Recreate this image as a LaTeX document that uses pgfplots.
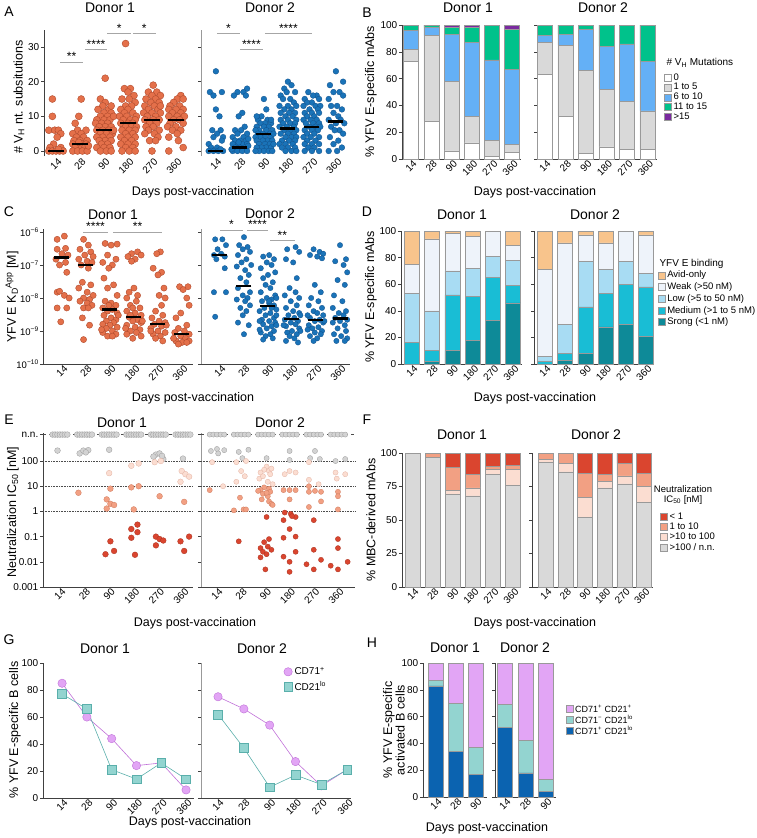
\documentclass[border=0pt]{standalone}
\usepackage{pgfplots}
\pgfplotsset{compat=1.18}
\usepackage{pgfplotstable}
\usepackage{fontspec}
\setmainfont{Liberation Sans}
\definecolor{aor}{HTML}{E4704A}\definecolor{aorE}{HTML}{B04A2C}
\definecolor{abl}{HTML}{1A73B8}\definecolor{ablE}{HTML}{10508A}
\definecolor{bgr}{HTML}{D9D9D9}\definecolor{bbl}{HTML}{64B0F6}\definecolor{bgn}{HTML}{00C28B}\definecolor{bpu}{HTML}{7A2A9F}
\definecolor{dav}{HTML}{F8C48C}\definecolor{dwk}{HTML}{EEF3FA}\definecolor{dlo}{HTML}{A8DCF3}\definecolor{dme}{HTML}{19BDD5}\definecolor{dst}{HTML}{0E8A98}
\definecolor{ered}{HTML}{DA452F}\definecolor{eredE}{HTML}{A8321F}
\definecolor{eor}{HTML}{F2A083}\definecolor{eorE}{HTML}{CF7A5C}
\definecolor{elt}{HTML}{FBDDD1}\definecolor{eltE}{HTML}{E3B2A2}
\definecolor{egr}{HTML}{D3D3D3}\definecolor{egrE}{HTML}{9A9A9A}
\definecolor{vio}{HTML}{E2A5F5}\definecolor{vioE}{HTML}{C070D8}
\definecolor{tea}{HTML}{93D4D0}\definecolor{teaE}{HTML}{5AAFAB}
\definecolor{hbl}{HTML}{0B63B0}
\newcommand{\fs}[1]{\fontsize{#1}{#1}\selectfont}
\pgfplotsset{
 pan/.style={scale only axis, clip=false, axis x line*=bottom, axis y line*=left,
  axis line style={-, black!75, line width=0.6pt},
  ytick style={black!75, line width=0.6pt}, xtick style={draw=none},
  tick align=outside, major tick length=3pt, minor tick length=0pt,
  tick label style={font=\fs{10}},
  xtick={0,...,5}, xticklabels={14,28,90,180,270,360},
  xticklabel style={rotate=45, anchor=north east, inner sep=0.5pt, xshift=2pt},
  xticklabel shift=-1.5pt,
  yticklabel style={inner sep=1.5pt},
  /pgf/number format/assume math mode=true},
 noyl/.style={yticklabels={}},
 bars/.style={ybar stacked, bar width=15pt, ymin=0, ymax=100,
  every axis plot/.append style={draw=black!40, line width=0.5pt},
  legend cell align=left,
  legend image code/.code={\draw[##1] (0pt,-3.5pt) rectangle (7pt,3.5pt);}},
 dots/.style={only marks, mark=*, mark size=#1},
 med/.style={only marks, mark=-, mark size=#1, mark options={line width=2.2pt, draw=black}},
 table/jit/.style={x expr=\thisrow{c}+\thisrow{o}, y=v},
}
% ---------------- Panel A data
\pgfplotstableread[row sep=\\]{c o v\\
0 -0.15 15\\0 -0.15 10\\0 -0.3 6\\0 -0.05 6\\0 0.1 6\\0 0.2 5\\0 0.05 4\\0 -0.1 2\\0 -0.25 1\\0 0.2 1\\0 -0.3 0\\0 -0.15 0\\0 0 0\\0 0.15 0\\0 0.3 0\\0 0.1 0.5\\
1 0.05 15\\1 -0.05 10\\1 -0.2 8\\1 0.25 6\\1 -0.1 6\\1 0.05 5\\1 -0.3 5\\1 0.15 4\\1 -0.15 4\\1 0 3\\1 0.3 3\\1 -0.25 3\\1 0.1 2\\1 -0.1 2\\1 0.25 2\\1 -0.3 2\\1 0 1\\1 0.2 1\\1 -0.2 1\\1 -0.3 0\\1 -0.1 0\\1 0.1 0\\1 0.3 0\\1 0.35 1.5\\1 -0.05 2.5\\
2 0.05 21\\2 -0.15 15\\2 0.05 14\\2 -0.05 13\\2 0.2 12\\2 -0.25 12\\2 0 11\\2 0.3 11\\2 -0.15 10\\2 0.15 10\\2 -0.3 9\\2 0 9\\2 0.25 9\\2 -0.1 8\\2 0.15 8\\2 -0.35 8\\2 0.05 7\\2 0.3 7\\2 -0.2 7\\2 -0.05 6\\2 0.2 6\\2 -0.3 6\\2 0.1 5\\2 -0.15 5\\2 0.35 5\\2 -0.05 4\\2 0.25 4\\2 -0.3 4\\2 0.05 3\\2 -0.2 3\\2 0.3 3\\2 -0.1 2\\2 0.15 2\\2 0 1\\2 -0.3 1\\2 0.25 1\\2 -0.15 0\\2 0.1 0\\2 0.3 0\\2 0.4 10\\2 0.3 13\\2 0.4 6\\
3 -0.1 31\\3 -0.15 18\\3 0.1 18\\3 0 17\\3 0.25 16\\3 -0.25 15\\3 0.05 15\\3 0.3 14\\3 -0.1 13\\3 0.15 13\\3 -0.3 12\\3 0 12\\3 0.2 11\\3 -0.15 11\\3 0.35 10\\3 -0.05 10\\3 -0.35 10\\3 0.1 9\\3 -0.2 9\\3 0.3 9\\3 0 8\\3 -0.3 8\\3 0.2 8\\3 -0.1 7\\3 0.15 7\\3 0.35 7\\3 -0.25 6\\3 0.05 6\\3 0.3 6\\3 -0.1 5\\3 0.2 5\\3 -0.3 4\\3 0 4\\3 0.3 4\\3 -0.15 3\\3 0.15 3\\3 0 2\\3 -0.3 2\\3 0.3 2\\3 -0.1 1\\3 0.2 1\\3 -0.25 0\\3 0.05 0\\3 0.3 0\\
4 0.05 19\\4 -0.15 17\\4 0.2 17\\4 0 16\\4 0.35 16\\4 -0.25 15\\4 0.15 15\\4 -0.05 14\\4 0.3 14\\4 -0.3 13\\4 0.1 13\\4 -0.15 12\\4 0.25 12\\4 0 11\\4 0.35 11\\4 -0.35 11\\4 -0.2 10\\4 0.15 10\\4 0.05 9\\4 -0.3 9\\4 0.3 9\\4 -0.1 8\\4 0.2 8\\4 -0.25 7\\4 0.05 7\\4 0.3 6\\4 -0.15 6\\4 0.1 5\\4 -0.3 5\\4 0.25 4\\4 -0.1 3\\4 0.15 3\\4 0 0\\4 0.35 13\\
5 0.2 16\\5 0.05 15\\5 0.3 15\\5 -0.1 14\\5 -0.25 13\\5 0.15 13\\5 0 12\\5 0.3 12\\5 -0.3 12\\5 -0.15 11\\5 0.2 11\\5 0.05 10\\5 -0.3 10\\5 0.35 10\\5 -0.1 9\\5 0.15 9\\5 -0.25 8\\5 0.3 8\\5 0 7\\5 -0.35 7\\5 0.2 6\\5 -0.15 6\\5 0.05 5\\5 -0.3 4\\5 0.1 3\\5 0.3 1\\5 -0.3 0\\
}\Aone
\pgfplotstableread[row sep=\\]{c o v\\
0 0 23\\0 -0.25 17\\0 0.25 17\\0 -0.1 16\\0 0 12\\0 0.15 10\\0 -0.15 6\\0 0.2 6\\0 0.05 5\\0 -0.1 4\\0 0.3 4\\0 0.25 3\\0 -0.3 2\\0 0.05 1\\0 -0.2 1\\0 -0.3 0\\0 -0.1 0\\0 0.1 0\\0 0.3 0\\0 0.2 0.5\\
1 0.3 18\\1 -0.1 17\\1 0.15 17\\1 -0.25 16\\1 0.25 16\\1 0.1 11\\1 -0.05 10\\1 0.2 7\\1 -0.2 6\\1 0.05 6\\1 0.3 5\\1 -0.1 5\\1 0.15 4\\1 -0.3 4\\1 0 3\\1 0.25 3\\1 -0.2 3\\1 0.1 2\\1 -0.1 2\\1 0.3 2\\1 -0.3 2\\1 0 1\\1 0.2 1\\1 -0.2 1\\1 -0.3 0\\1 -0.1 0\\1 0.1 0\\1 0.3 0\\1 0.35 1.5\\1 -0.35 0.5\\1 0.35 3.5\\1 -0.05 2.5\\
2 0 15\\2 0.1 12\\2 -0.1 10\\2 0.15 9\\2 -0.25 9\\2 0.05 8\\2 0.3 8\\2 -0.15 8\\2 -0.3 7\\2 0.2 7\\2 0 7\\2 -0.2 6\\2 0.1 6\\2 0.35 6\\2 -0.35 6\\2 -0.05 5\\2 0.25 5\\2 -0.25 5\\2 0.05 4\\2 0.3 4\\2 -0.15 4\\2 -0.35 4\\2 0.15 3\\2 -0.05 3\\2 0.35 3\\2 -0.3 3\\2 0.05 2\\2 -0.2 2\\2 0.25 2\\2 0.1 1\\2 -0.1 1\\2 0.3 1\\2 -0.3 1\\2 0 0\\2 -0.2 0\\2 0.2 0\\2 0.35 0\\2 -0.35 0\\2 0.4 5\\2 0.3 9\\2 -0.3 10\\2 0.4 2\\
3 0 20\\3 0.15 19\\3 -0.15 18\\3 0.3 17\\3 -0.05 17\\3 -0.3 16\\3 0.1 15\\3 -0.2 15\\3 0.25 14\\3 0 13\\3 -0.35 13\\3 0.35 13\\3 0.15 12\\3 -0.15 12\\3 -0.3 11\\3 0.05 11\\3 0.3 11\\3 -0.1 10\\3 0.2 10\\3 0 9\\3 -0.3 9\\3 0.35 9\\3 0.1 8\\3 -0.2 8\\3 0.3 8\\3 -0.05 7\\3 0.25 7\\3 -0.35 7\\3 0.1 6\\3 -0.15 6\\3 0.35 6\\3 0 5\\3 -0.3 5\\3 0.25 5\\3 -0.1 4\\3 0.15 4\\3 0.35 4\\3 -0.25 3\\3 0.05 3\\3 0.3 3\\3 -0.1 2\\3 0.2 2\\3 -0.35 2\\3 0 1\\3 0.3 1\\3 -0.25 1\\3 -0.1 0\\3 0.15 0\\3 0.35 0\\
4 -0.15 17\\4 0.2 16\\4 0.05 16\\4 -0.3 15\\4 0.3 15\\4 0 14\\4 -0.2 14\\4 0.15 13\\4 0.35 13\\4 -0.35 13\\4 -0.1 12\\4 0.25 12\\4 0 11\\4 -0.3 11\\4 0.3 11\\4 0.1 10\\4 -0.2 10\\4 0.2 9\\4 -0.05 9\\4 -0.35 9\\4 0.3 8\\4 0.05 8\\4 -0.25 8\\4 0.15 7\\4 -0.1 7\\4 0.35 7\\4 -0.3 6\\4 0 6\\4 0.25 6\\4 0.1 5\\4 -0.2 5\\4 0.3 4\\4 -0.05 4\\4 -0.35 4\\4 0.15 3\\4 -0.2 3\\4 0 2\\4 0.3 2\\4 -0.3 2\\4 0.1 1\\4 -0.15 1\\4 0 0\\4 0.3 0\\4 -0.3 0\\
5 0 23\\5 0.3 20\\5 -0.25 19\\5 -0.1 17\\5 0.15 17\\5 0.3 16\\5 -0.3 15\\5 0.05 13\\5 -0.2 13\\5 0.25 12\\5 -0.1 11\\5 0.1 10\\5 -0.3 9\\5 0.2 9\\5 0 8\\5 0.35 8\\5 -0.2 7\\5 0.15 6\\5 -0.05 6\\5 0.3 5\\5 -0.25 4\\5 0.1 3\\5 -0.1 2\\5 0.25 1\\5 0.05 0\\5 -0.3 0\\
}\Atwo
% ---------------- Panel C data
\pgfplotstableread[row sep=\\]{c o v\\
0 0.1 7.5e-7\\0 -0.2 6e-7\\0 0.15 3.2e-7\\0 -0.2 3e-7\\0 0 2.2e-7\\0 0.25 2e-7\\0 -0.25 1.5e-7\\0 0.15 1.2e-7\\0 -0.1 1e-7\\0 0.2 6e-8\\0 -0.2 1.5e-8\\0 0.1 1.2e-8\\0 0.3 1e-8\\0 -0.2 5e-9\\0 0.2 5e-9\\0 -0.05 1.9e-9\\0 -0.1 1.6e-8\\
1 -0.1 6e-7\\1 0.1 4e-7\\1 -0.25 3e-7\\1 0.2 2.5e-7\\1 -0.05 2e-7\\1 0.3 1.8e-7\\1 -0.3 1.5e-7\\1 0.05 1.3e-7\\1 0.25 1.2e-7\\1 -0.2 1e-7\\1 0.1 8e-8\\1 -0.15 3e-8\\1 0.2 2.5e-8\\1 -0.3 2e-8\\1 0.05 1.5e-8\\1 0.3 1.2e-8\\1 -0.1 1e-8\\1 0.15 9e-9\\1 -0.25 8e-9\\1 0.05 7e-9\\1 0.25 6e-9\\1 -0.1 5e-9\\1 0.1 5e-9\\1 -0.15 2.5e-9\\1 0.15 1.5e-9\\1 -0.1 5.5e-10\\
2 -0.2 4.5e-7\\2 0.3 4.3e-7\\2 0.05 4e-7\\2 -0.1 2e-7\\2 0.25 1.5e-7\\2 -0.3 1.2e-7\\2 0.1 1e-7\\2 -0.05 8e-8\\2 -0.25 4e-8\\2 0.15 2.5e-8\\2 -0.1 2e-8\\2 0.3 1.2e-8\\2 -0.2 8e-9\\2 0.05 7e-9\\2 0.25 6e-9\\2 -0.3 5e-9\\2 0.1 4.5e-9\\2 -0.1 4e-9\\2 0.3 3.5e-9\\2 -0.25 3e-9\\2 0.05 2.5e-9\\2 0.25 2.2e-9\\2 -0.15 2e-9\\2 0.15 1.8e-9\\2 -0.3 1.6e-9\\2 0 1.5e-9\\2 0.3 1.3e-9\\2 -0.15 1.2e-9\\2 0.1 1e-9\\2 -0.3 9e-10\\2 0.25 8e-10\\2 -0.1 7e-10\\2 0.1 7e-10\\2 -0.05 6e-9\\2 0.35 3e-9\\2 -0.35 1.1e-9\\
3 0.15 2.5e-7\\3 -0.1 2.2e-7\\3 0.3 2e-7\\3 -0.25 1.8e-7\\3 0.05 1.5e-7\\3 -0.1 1.3e-7\\3 0 2e-8\\3 -0.2 1.5e-8\\3 0.15 1.2e-8\\3 -0.3 1e-8\\3 0.1 8e-9\\3 -0.15 6e-9\\3 0.25 5e-9\\3 -0.3 4e-9\\3 0.05 3.5e-9\\3 0.3 3e-9\\3 -0.2 2.6e-9\\3 0.15 2.2e-9\\3 -0.05 2e-9\\3 0.3 1.8e-9\\3 -0.3 1.5e-9\\3 0.05 1.3e-9\\3 0.25 1.1e-9\\3 -0.15 1e-9\\3 0.1 9e-10\\3 -0.3 8e-10\\3 0.3 7e-10\\3 -0.05 6e-10\\3 -0.05 5e-9\\3 -0.15 3e-9\\3 0.35 2e-9\\3 -0.35 1.2e-9\\
4 0.1 2.5e-7\\4 -0.05 2.2e-7\\4 -0.2 8e-8\\4 0.15 6e-8\\4 0 5e-8\\4 0.25 2e-8\\4 0.05 1.2e-8\\4 0.3 1e-8\\4 0.15 6e-9\\4 -0.1 4e-9\\4 0.2 3e-9\\4 -0.25 2.5e-9\\4 0.05 2e-9\\4 0.3 1.8e-9\\4 -0.15 1.6e-9\\4 0.15 1.4e-9\\4 -0.3 1.2e-9\\4 0 1e-9\\4 0.3 9e-10\\4 -0.2 8e-10\\4 0.1 7e-10\\4 -0.1 6e-10\\4 0.2 5e-10\\4 0.35 1.5e-9\\4 -0.3 1e-9\\
5 -0.1 2.2e-8\\5 0.25 2.2e-8\\5 0.05 1.8e-8\\5 0.2 1e-8\\5 0.3 6e-9\\5 -0.05 3.5e-9\\5 -0.25 2.5e-9\\5 0.2 1.5e-9\\5 -0.15 1.2e-9\\5 0.1 1e-9\\5 -0.3 9e-10\\5 0.3 8e-10\\5 -0.05 7e-10\\5 0.15 6e-10\\5 -0.25 5e-10\\5 0.3 5e-10\\5 0 4.5e-10\\5 -0.15 4e-10\\5 -0.35 6e-10\\5 0.2 4.5e-10\\
}\Cone
\pgfplotstableread[row sep=\\]{c o v\\
0 -0.2 6e-7\\0 0.1 6e-7\\0 0.25 4e-7\\0 -0.1 3e-7\\0 0.05 2.2e-7\\0 -0.25 2e-7\\0 0.2 1.8e-7\\0 -0.15 1.5e-7\\0 0.2 8e-8\\0 -0.25 1.5e-8\\0 0.25 1.5e-8\\0 -0.2 2.7e-9\\
1 0 7e-7\\1 -0.2 4e-7\\1 0.15 3.5e-7\\1 -0.05 3e-7\\1 0.25 2.5e-7\\1 -0.25 2e-7\\1 0.1 1.5e-7\\1 -0.1 1.2e-7\\1 0.3 1e-7\\1 -0.3 9e-8\\1 0.05 7e-8\\1 0.2 5e-8\\1 -0.15 4e-8\\1 0.1 3e-8\\1 -0.25 2e-8\\1 0.25 1.5e-8\\1 -0.05 1.2e-8\\1 0.15 1e-8\\1 -0.3 9e-9\\1 0.05 8e-9\\1 0.25 6e-9\\1 -0.15 5e-9\\1 0.1 4e-9\\1 -0.05 3e-9\\1 -0.25 1.8e-9\\1 0.2 1.5e-9\\1 0 8e-10\\
2 0.05 2e-7\\2 -0.2 1.8e-7\\2 0.25 1.5e-7\\2 -0.05 1.2e-7\\2 0.15 1e-7\\2 -0.3 8e-8\\2 0.3 6e-8\\2 0 5e-8\\2 -0.2 4e-8\\2 0.2 3e-8\\2 -0.1 2.5e-8\\2 0.1 2e-8\\2 -0.3 1.5e-8\\2 0.3 1.2e-8\\2 -0.05 1e-8\\2 0.15 9e-9\\2 -0.25 8e-9\\2 0.05 7e-9\\2 0.25 6e-9\\2 -0.15 5e-9\\2 0.35 4.5e-9\\2 -0.35 4e-9\\2 0.1 3.5e-9\\2 -0.1 3e-9\\2 0.25 2.5e-9\\2 -0.25 2.2e-9\\2 0.05 2e-9\\2 0.3 1.8e-9\\2 -0.2 1.6e-9\\2 0.15 1.4e-9\\2 -0.05 1.2e-9\\2 0.25 1e-9\\2 -0.3 9e-10\\2 0.1 8e-10\\2 -0.1 7e-10\\2 0.2 6e-10\\2 -0.2 5.5e-10\\2 0.35 3e-9\\2 -0.35 2e-9\\2 0.35 1e-8\\2 0.15 5e-9\\2 0.35 1.5e-9\\2 -0.35 1.1e-9\\2 0.05 8e-9\\
3 0.15 3.5e-7\\3 -0.2 3e-7\\3 0.3 2.5e-7\\3 -0.25 1.5e-7\\3 0.05 1.2e-7\\3 0.2 4e-8\\3 -0.1 2e-8\\3 0.15 1.5e-8\\3 -0.3 1.2e-8\\3 0.3 1e-8\\3 -0.05 8e-9\\3 0.2 6e-9\\3 -0.25 5e-9\\3 0.05 4e-9\\3 0.3 3.5e-9\\3 -0.15 3e-9\\3 0.1 2.5e-9\\3 -0.3 2.2e-9\\3 0.25 2e-9\\3 -0.05 1.8e-9\\3 0.15 1.6e-9\\3 -0.25 1.4e-9\\3 0.3 1.2e-9\\3 0 1e-9\\3 -0.2 9e-10\\3 0.2 8e-10\\3 -0.1 7e-10\\3 0.1 6e-10\\3 -0.25 5e-10\\3 0.25 4.5e-10\\3 0.35 3e-9\\3 -0.35 1.5e-9\\3 0.35 1e-9\\
4 -0.1 3e-7\\4 0.15 2.5e-7\\4 0.3 2.2e-7\\4 -0.25 2e-7\\4 0.05 1.8e-7\\4 0.25 1.6e-7\\4 -0.05 2.5e-8\\4 0.2 1.5e-8\\4 -0.2 1e-8\\4 0.1 8e-9\\4 -0.3 6e-9\\4 0.25 5e-9\\4 -0.1 4e-9\\4 0.05 3.5e-9\\4 0.3 3e-9\\4 -0.25 2.5e-9\\4 0.15 2.2e-9\\4 -0.05 2e-9\\4 0.3 1.8e-9\\4 -0.3 1.5e-9\\4 0.1 1.3e-9\\4 -0.15 1.2e-9\\4 0.25 1e-9\\4 -0.05 9e-10\\4 0.2 8e-10\\4 -0.25 7e-10\\4 0.05 6e-10\\4 -0.1 5e-10\\4 -0.35 3e-9\\4 0.35 2e-9\\4 -0.35 1.1e-9\\
5 0 4e-7\\5 0.25 1.5e-7\\5 -0.2 1.3e-7\\5 0.15 1e-7\\5 0.3 6e-8\\5 -0.1 3.5e-8\\5 0.2 2.5e-8\\5 -0.25 1.2e-8\\5 0.1 8e-9\\5 -0.3 5e-9\\5 0.25 4e-9\\5 -0.05 3.5e-9\\5 0.15 3e-9\\5 -0.2 2.5e-9\\5 0.3 2.2e-9\\5 0 2e-9\\5 -0.3 1.8e-9\\5 0.2 1.5e-9\\5 -0.1 1.2e-9\\5 0.25 1e-9\\5 -0.25 8e-10\\5 0.05 7e-10\\5 0.3 6e-10\\5 -0.15 5e-10\\5 0.2 5e-10\\
}\Ctwo
% ---------------- Panel E data
\pgfplotstableread[row sep=\\]{c o v\\
0 -0.3 1122\\0 -0.2 1122\\0 -0.1 1122\\0 0 1122\\0 0.1 1122\\0 0.2 1122\\0 0.3 1122\\
1 -0.3 1122\\1 -0.2 1122\\1 -0.1 1122\\1 0 1122\\1 0.1 1122\\1 0.2 1122\\1 0.3 1122\\
2 -0.3 1122\\2 -0.2 1122\\2 -0.1 1122\\2 0 1122\\2 0.1 1122\\2 0.2 1122\\2 0.3 1122\\
3 -0.3 1122\\3 -0.2 1122\\3 -0.1 1122\\3 0 1122\\3 0.1 1122\\3 0.2 1122\\3 0.3 1122\\
4 -0.3 1122\\4 -0.2 1122\\4 -0.1 1122\\4 0 1122\\4 0.1 1122\\4 0.2 1122\\4 0.3 1122\\
5 -0.3 1122\\5 -0.2 1122\\5 -0.1 1122\\5 0 1122\\5 0.1 1122\\5 0.2 1122\\5 0.3 1122\\
0 -0.1 260\\1 -0.2 200\\1 0.15 270\\1 -0.05 260\\1 0.05 220\\2 0 280\\4 -0.1 180\\4 0.05 200\\4 -0.2 150\\4 0.2 120\\4 0.15 160\\5 0 125\\
}\Eonegr
\pgfplotstableread[row sep=\\]{c o v\\
2 0 33\\3 -0.1 65\\3 0.2 80\\4 -0.15 90\\4 0.1 100\\5 -0.05 40\\5 0.1 30\\5 0.25 24\\5 -0.1 15\\
}\Eonelt
\pgfplotstableread[row sep=\\]{c o v\\
1 -0.25 5.5\\2 0.05 8\\2 -0.1 3\\2 -0.1 1.3\\2 0.05 2\\2 0.2 1.8\\3 -0.1 9\\3 0.2 10\\3 0 1.2\\4 0.05 4\\5 0.05 2.4\\
}\Eoneor
\pgfplotstableread[row sep=\\]{c o v\\
2 0.05 0.065\\2 -0.15 0.02\\2 0.2 0.027\\3 -0.1 0.2\\3 0.15 0.3\\3 0.15 0.15\\3 -0.1 0.09\\3 0.05 0.019\\4 -0.1 0.1\\4 0.05 0.08\\4 0.2 0.07\\4 -0.1 0.045\\5 0.25 0.1\\5 -0.1 0.065\\5 0.05 0.027\\
}\Eonerd
\pgfplotstableread[row sep=\\]{c o v\\
0 -0.3 1122\\0 -0.15 1122\\0 0 1122\\0 0.15 1122\\0 0.3 1122\\
1 -0.3 1122\\1 -0.15 1122\\1 0 1122\\1 0.15 1122\\1 0.3 1122\\
2 -0.3 1122\\2 -0.15 1122\\2 0 1122\\2 0.15 1122\\2 0.3 1122\\
3 -0.3 1122\\3 -0.15 1122\\3 0 1122\\3 0.15 1122\\3 0.3 1122\\
4 -0.3 1122\\4 -0.15 1122\\4 0 1122\\4 0.15 1122\\4 0.3 1122\\
5 -0.3 1122\\5 -0.15 1122\\5 0 1122\\5 0.15 1122\\5 0.3 1122\\
0 -0.25 250\\0 0 300\\0 0.05 200\\0 0.3 270\\1 -0.1 230\\1 0.05 130\\1 0.3 280\\2 0.05 130\\3 0 250\\3 0 110\\4 0.05 250\\4 -0.15 130\\4 0.25 120\\5 0.3 120\\5 -0.1 100\\
}\Etwogr
\pgfplotstableread[row sep=\\]{c o v\\
0 -0.2 90\\0 0.25 10\\1 -0.2 90\\1 0.2 100\\1 0 40\\1 0.15 25\\1 -0.2 15\\2 0.05 60\\2 -0.05 45\\2 0.15 40\\2 -0.2 35\\2 0.2 30\\2 -0.25 20\\2 0.1 15\\2 0.3 12\\2 -0.1 25\\2 0.25 50\\3 0 40\\3 0.25 35\\3 -0.2 30\\4 -0.2 18\\4 0.2 12\\4 -0.2 90\\5 -0.1 35\\5 -0.05 20\\5 0.3 30\\
}\Etwolt
\pgfplotstableread[row sep=\\]{c o v\\
0 -0.3 7\\1 -0.05 3.5\\1 -0.3 1.1\\1 0.1 1.2\\1 0.2 1.2\\2 -0.05 9\\2 0.15 8\\2 -0.2 7\\2 0.2 6\\2 -0.1 5\\2 0.1 4\\2 -0.15 3\\2 0.15 2.5\\2 0.25 2\\2 0.3 1.8\\2 -0.3 6.5\\2 0.05 5.5\\3 -0.25 7\\3 0.25 7\\3 0 7\\3 0 3\\4 -0.2 10\\4 -0.2 6\\4 0.05 6.5\\4 -0.2 1.5\\4 0.3 2.5\\4 0.3 6\\5 0 6\\5 0 4\\5 0 1.2\\
}\Etwoor
\pgfplotstableread[row sep=\\]{c o v\\
1 -0.1 0.065\\2 0.05 0.6\\2 0.15 0.08\\2 -0.05 0.06\\2 0.1 0.04\\2 -0.2 0.035\\2 0.25 0.03\\2 -0.1 0.025\\2 0.05 0.02\\2 -0.2 0.015\\2 0 0.005\\3 -0.2 0.9\\3 0.05 0.8\\3 0.25 0.6\\3 0.1 0.65\\3 -0.25 0.45\\3 0 0.2\\3 0.25 0.1\\3 -0.25 0.09\\3 0.25 0.025\\3 -0.25 0.016\\3 0 0.01\\3 0 0.004\\4 0 0.45\\4 0 0.03\\4 0.3 0.012\\4 -0.3 0.008\\4 0 0.005\\5 0 0.08\\5 0 0.035\\5 0.4 0.01\\5 -0.3 0.007\\5 0 0.005\\
}\Etword
\begin{document}
\begin{tikzpicture}[x=1pt,y=1pt]
\useasboundingbox (0,0) rectangle (757,-838);
% ============ text: letters, titles, labels
\begin{scope}[every node/.style={font=\fs{14}}]
\node at (9,-12) {A}; \node at (367,-13) {B}; \node at (9,-212) {C}; \node at (367,-212) {D};
\node at (9,-420) {E}; \node at (367,-420) {F}; \node at (9,-640) {G}; \node at (372,-643) {H};
\node at (110,-8) {Donor 1}; \node at (270,-8) {Donor 2};
\node at (468,-8) {Donor 1}; \node at (603,-8) {Donor 2};
\node at (113,-215) {Donor 1}; \node at (270,-214) {Donor 2};
\node at (462,-215) {Donor 1}; \node at (595,-215) {Donor 2};
\node at (122,-423) {Donor 1}; \node at (280,-423) {Donor 2};
\node at (462,-435) {Donor 1}; \node at (596,-435) {Donor 2};
\node at (105,-649) {Donor 1}; \node at (262,-649) {Donor 2};
\node at (455,-648) {Donor 1}; \node at (525,-648) {Donor 2};
\end{scope}
\begin{scope}[every node/.style={font=\fs{12.5}}]
\node at (193,-192) {Days post-vaccination}; \node at (535,-192) {Days post-vaccination};
\node at (193,-398) {Days post-vaccination}; \node at (535,-398) {Days post-vaccination};
\node at (195,-623) {Days post-vaccination}; \node at (535,-623) {Days post-vaccination};
\node at (190,-822) {Days post-vaccination}; \node at (487,-828) {Days post-vaccination};
\node[rotate=90] at (19,-97) {\# V\textsubscript{H} nt. subsitutions};
\node[rotate=90] at (371,-92) {\% YFV E-specific mAbs};
\node[rotate=90] at (12,-297) {YFV E K\textsubscript{D}\textsuperscript{App} [M]};
\node[rotate=90] at (371,-297) {\% YFV E-specific mAbs};
\node[rotate=90] at (13,-512) {Neutralization IC\textsubscript{50} [nM]};
\node[rotate=90] at (371,-520) {\% MBC-derived mAbs};
\node[rotate=90] at (15,-730) {\% YFV E-specific B cells};
\node[rotate=90,align=center] at (394,-730) {\% YFV E-specific\\activated B cells};
\end{scope}
\node[font=\fs{10},anchor=west] at (663,-63) {\# V\textsubscript{H} Mutations};
\node[font=\fs{10},anchor=west] at (656,-264) {YFV E binding};
\node[font=\fs{9.5},align=center] at (683,-495) {Neutralization\\IC\textsubscript{50} [nM]};
% ============ A
\begin{axis}[pan, at={(44pt,-156.2pt)}, anchor=south west, width=151.2pt, height=126.5pt,
  xmin=-0.5, xmax=5.8, ymin=-1.5, ymax=35, ytick={0,10,20,30}, x axis line style={draw=none}]
\addplot[dots=3.5pt, mark options={fill=aor, draw=aorE, line width=0.4pt}] table[jit]{\Aone};
\addplot[med=8pt] coordinates {(0,0)(1,2)(2,6)(3,8)(4,9)(5,9)};
\draw[gray!70, line width=0.7pt] (axis cs:0.17,25.7)--(axis cs:1.12,25.7);
\draw[gray!70, line width=0.7pt] (axis cs:1.21,29.4)--(axis cs:2.13,29.4);
\draw[gray!70, line width=0.7pt] (axis cs:2.13,34)--(axis cs:3.13,34);
\draw[gray!70, line width=0.7pt] (axis cs:3.2,34)--(axis cs:4.17,34);
\node[font=\fs{12},anchor=south,yshift=-2.5pt] at (axis cs:0.65,25.7) {**};
\node[font=\fs{12},anchor=south,yshift=-2.5pt] at (axis cs:1.67,29.4) {****};
\node[font=\fs{12},anchor=south,yshift=-2.5pt] at (axis cs:2.63,34) {*};
\node[font=\fs{12},anchor=south,yshift=-2.5pt] at (axis cs:3.68,34) {*};
\end{axis}
\begin{axis}[pan, noyl, at={(201pt,-156.2pt)}, anchor=south west, width=154.1pt, height=126.5pt,
  xmin=-0.62, xmax=5.8, ymin=-1.5, ymax=35, ytick={0,10,20,30}, x axis line style={draw=none},
  y axis line style={black!40}]
\addplot[dots=2.9pt, mark options={fill=abl, draw=ablE, line width=0.3pt}] table[jit]{\Atwo};
\addplot[med=7.5pt] coordinates {(0,0)(1,1)(2,5)(3,6.5)(4,7)(5,8.5)};
\draw[gray!70, line width=0.7pt] (axis cs:0.04,34)--(axis cs:1,34);
\draw[gray!70, line width=0.7pt] (axis cs:1,29.4)--(axis cs:1.96,29.4);
\draw[gray!70, line width=0.7pt] (axis cs:2.04,34)--(axis cs:4,34);
\node[font=\fs{12},anchor=south,yshift=-2.5pt] at (axis cs:0.52,34) {*};
\node[font=\fs{12},anchor=south,yshift=-2.5pt] at (axis cs:1.48,29.4) {****};
\node[font=\fs{12},anchor=south,yshift=-2.5pt] at (axis cs:3.02,34) {****};
\end{axis}
% ============ B
\begin{axis}[pan, bars, at={(402pt,-159pt)}, anchor=south west, width=119.2pt, height=134pt,
  xmin=-0.45, xmax=5.45, ytick={0,20,40,60,80,100}]
\addplot[fill=white] coordinates {(0,73)(1,28)(2,6)(3,12)(4,2)(5,5)};
\addplot[fill=bgr] coordinates {(0,9)(1,64)(2,52)(3,20)(4,12)(5,6)};
\addplot[fill=bbl] coordinates {(0,14)(1,6)(2,35)(3,55)(4,60)(5,56)};
\addplot[fill=bgn] coordinates {(0,4)(1,1.5)(2,5)(3,11)(4,26)(5,30)};
\addplot[fill=bpu] coordinates {(0,0)(1,0.5)(2,2)(3,2)(4,0)(5,3)};
\end{axis}
\begin{axis}[pan, bars, noyl, at={(537pt,-159pt)}, anchor=south west, width=119.7pt, height=134pt,
  xmin=-0.39, xmax=5.45, ytick={0,20,40,60,80,100},
  legend style={draw=none, fill=none, at={(1.06,0.655)}, anchor=north west, font=\fs{9.5}, row sep=-2.2pt, inner sep=0pt}]
\addplot[fill=white] coordinates {(0,63)(1,32)(2,4)(3,9)(4,7)(5,7)};
\addplot[fill=bgr] coordinates {(0,24)(1,53)(2,62)(3,43)(4,36)(5,29)};
\addplot[fill=bbl] coordinates {(0,5)(1,8)(2,31)(3,32)(4,43)(5,37)};
\addplot[fill=bgn] coordinates {(0,8)(1,7)(2,3)(3,16)(4,14)(5,27)};
\addplot[fill=bpu] coordinates {(0,0)(1,0)(2,0)(3,0)(4,0)(5,0)};
\legend{0,1 to 5,6 to 10,11 to 15,>15}
\end{axis}
% ============ C
\begin{axis}[pan, ymode=log, at={(43pt,-364pt)}, anchor=south west, width=150pt, height=135.3pt,
  xmin=-0.79, xmax=5.46, ymin=1e-10, ymax=1.2589e-6,
  ytick={1e-10,1e-9,1e-8,1e-7,1e-6},
  yticklabel style={font=\fs{9.5}, inner sep=1pt},
  yticklabels={10\textsuperscript{−10},10\textsuperscript{−9},10\textsuperscript{−8},10\textsuperscript{−7},10\textsuperscript{−6}},
  minor ytick={}]
\addplot[dots=3.1pt, mark options={fill=aor, draw=aorE, line width=0.4pt}] table[jit]{\Cone};
\addplot[med=7.5pt] coordinates {(0,1.7e-7)(1,1e-7)(2,4.5e-9)(3,2.6e-9)(4,1.6e-9)(5,8e-10)};
\draw[gray!70, line width=0.7pt] (axis cs:0.875,1e-6)--(axis cs:1.92,1e-6);
\draw[gray!70, line width=0.7pt] (axis cs:2.125,1e-6)--(axis cs:4.17,1e-6);
\node[font=\fs{12},anchor=south,yshift=-2.5pt] at (axis cs:1.4,1e-6) {****};
\node[font=\fs{12},anchor=south,yshift=-2.5pt] at (axis cs:3.15,1e-6) {**};
\end{axis}
\begin{axis}[pan, noyl, ymode=log, at={(201pt,-364pt)}, anchor=south west, width=148.6pt, height=135.3pt,
  xmin=-0.79, xmax=5.4, ymin=1e-10, ymax=1.2589e-6, ytick={1e-10,1e-9,1e-8,1e-7,1e-6}, minor ytick={},
  y axis line style={black!40}]
\addplot[dots=2.7pt, mark options={fill=abl, draw=ablE, line width=0.3pt}] table[jit]{\Ctwo};
\addplot[med=7.5pt] coordinates {(0,2e-7)(1,2.3e-8)(2,5.8e-9)(3,2.3e-9)(4,2.2e-9)(5,2.4e-9)};
\draw[gray!70, line width=0.7pt] (axis cs:0,1.15e-6)--(axis cs:0.96,1.15e-6);
\draw[gray!70, line width=0.7pt] (axis cs:1.125,1.15e-6)--(axis cs:2,1.15e-6);
\draw[gray!70, line width=0.7pt] (axis cs:2.08,5.7e-7)--(axis cs:3.125,5.7e-7);
\node[font=\fs{12},anchor=south,yshift=-2.5pt] at (axis cs:0.48,1.15e-6) {*};
\node[font=\fs{12},anchor=south,yshift=-2.5pt] at (axis cs:1.56,1.15e-6) {****};
\node[font=\fs{12},anchor=south,yshift=-2.5pt] at (axis cs:2.6,5.7e-7) {**};
\end{axis}
% ============ D
\begin{axis}[pan, bars, at={(401pt,-364pt)}, anchor=south west, width=121.1pt, height=133pt,
  xmin=-0.545, xmax=5.45, ytick={0,20,40,60,80,100}]
\addplot[fill=dst] coordinates {(0,0)(1,2)(2,10)(3,18)(4,33)(5,46)};
\addplot[fill=dme] coordinates {(0,16)(1,8)(2,42)(3,33)(4,32)(5,13)};
\addplot[fill=dlo] coordinates {(0,37)(1,30)(2,18)(3,21)(4,16)(5,19)};
\addplot[fill=dwk] coordinates {(0,22)(1,54)(2,28)(3,24)(4,19)(5,11)};
\addplot[fill=dav] coordinates {(0,25)(1,6)(2,2)(3,4)(4,0)(5,11)};
\end{axis}
\begin{axis}[pan, bars, noyl, at={(534pt,-364pt)}, anchor=south west, width=120pt, height=133pt,
  xmin=-0.545, xmax=5.4, ytick={0,20,40,60,80,100}, reverse legend,
  legend style={draw=none, fill=none, at={(1.03,0.715)}, anchor=north west, font=\fs{9.5}, row sep=-0.7pt, inner sep=0pt}]
\addplot[fill=dst] coordinates {(0,0)(1,3)(2,8)(3,28)(4,30)(5,21)};
\addplot[fill=dme] coordinates {(0,2)(1,5)(2,35)(3,25)(4,30)(5,37)};
\addplot[fill=dlo] coordinates {(0,4)(1,22)(2,34)(3,18)(4,17)(5,10)};
\addplot[fill=dwk] coordinates {(0,65)(1,61)(2,20)(3,20)(4,23)(5,29)};
\addplot[fill=dav] coordinates {(0,29)(1,9)(2,3)(3,9)(4,0)(5,3)};
\legend{Srong (<1 nM),Medium (>1 to 5 nM),Low (>5 to 50 nM),Weak (>50 nM),Avid-only}
\end{axis}
% ============ E
\begin{axis}[pan, ymode=log, at={(43pt,-587pt)}, anchor=south west, width=149.8pt, height=153.7pt,
  xmin=-0.69, xmax=5.4, ymin=1e-3, ymax=1258.9, minor ytick={},
  ytick={1e-3,1e-2,0.1,1,10,100,1122}, yticklabels={0.001,0.01,0.1,1,10,100,n.n.}]
\addplot[black!70, dashed, line width=0.5pt, forget plot] coordinates {(-0.69,1122)(5.4,1122)};
\addplot[black!70, densely dotted, line width=0.6pt, forget plot] coordinates {(-0.69,100)(5.4,100)};
\addplot[black!70, densely dotted, line width=0.6pt, forget plot] coordinates {(-0.69,10)(5.4,10)};
\addplot[black!70, densely dotted, line width=0.6pt, forget plot] coordinates {(-0.69,1)(5.4,1)};
\addplot[dots=2.9pt, mark options={fill=egr, draw=egrE, line width=0.3pt}] table[jit]{\Eonegr};
\addplot[dots=2.9pt, mark options={fill=elt, draw=eltE, line width=0.3pt}] table[jit]{\Eonelt};
\addplot[dots=2.9pt, mark options={fill=eor, draw=eorE, line width=0.3pt}] table[jit]{\Eoneor};
\addplot[dots=2.9pt, mark options={fill=ered, draw=eredE, line width=0.3pt}] table[jit]{\Eonerd};
\end{axis}
\begin{axis}[pan, noyl, ymode=log, at={(201pt,-587pt)}, anchor=south west, width=153.9pt, height=153.7pt,
  xmin=-0.66, xmax=5.7, ymin=1e-3, ymax=1258.9, minor ytick={}, ytick={1e-3,1e-2,0.1,1,10,100,1122},
  y axis line style={black!40}]
\addplot[black!70, dashed, line width=0.5pt, forget plot] coordinates {(-0.66,1122)(5.7,1122)};
\addplot[black!70, densely dotted, line width=0.6pt, forget plot] coordinates {(-0.66,100)(5.7,100)};
\addplot[black!70, densely dotted, line width=0.6pt, forget plot] coordinates {(-0.66,10)(5.7,10)};
\addplot[black!70, densely dotted, line width=0.6pt, forget plot] coordinates {(-0.66,1)(5.7,1)};
\addplot[dots=2.6pt, mark options={fill=egr, draw=egrE, line width=0.3pt}] table[jit]{\Etwogr};
\addplot[dots=2.6pt, mark options={fill=elt, draw=eltE, line width=0.3pt}] table[jit]{\Etwolt};
\addplot[dots=2.6pt, mark options={fill=eor, draw=eorE, line width=0.3pt}] table[jit]{\Etwoor};
\addplot[dots=2.6pt, mark options={fill=ered, draw=eredE, line width=0.3pt}] table[jit]{\Etword};
\end{axis}
% ============ F
\begin{axis}[pan, bars, at={(402pt,-587pt)}, anchor=south west, width=118pt, height=134pt,
  xmin=-0.55, xmax=5.35, ytick={0,25,50,75,100}]
\addplot[fill=bgr] coordinates {(0,100)(1,97)(2,69)(3,68)(4,84)(5,76)};
\addplot[fill=elt] coordinates {(0,0)(1,0)(2,3)(3,6)(4,4)(5,12)};
\addplot[fill=eor] coordinates {(0,0)(1,3)(2,17)(3,10)(4,2)(5,3)};
\addplot[fill=ered] coordinates {(0,0)(1,0)(2,11)(3,16)(4,10)(5,9)};
\end{axis}
\begin{axis}[pan, bars, noyl, at={(532pt,-587pt)}, anchor=south west, width=120.7pt, height=134pt,
  xmin=-0.71, xmax=5.45, ytick={0,25,50,75,100}, reverse legend,
  legend style={draw=none, fill=none, at={(1.06,0.57)}, anchor=north west, font=\fs{9.5}, row sep=-2pt, inner sep=0pt}]
\addplot[fill=bgr] coordinates {(0,93)(1,86)(2,52)(3,74)(4,77)(5,63)};
\addplot[fill=elt] coordinates {(0,2)(1,6)(2,15)(3,5)(4,6)(5,12)};
\addplot[fill=eor] coordinates {(0,5)(1,8)(2,18)(3,5)(4,9)(5,10)};
\addplot[fill=ered] coordinates {(0,0)(1,0)(2,15)(3,16)(4,8)(5,15)};
\legend{>100 / n.n.,>10 to 100,1 to 10,< 1}
\end{axis}
% ============ G
\begin{axis}[pan, at={(43pt,-798pt)}, anchor=south west, width=150.5pt, height=135pt,
  xmin=-0.77, xmax=5.3, ymin=0, ymax=100, ytick={0,20,40,60,80,100},
  xtick style={black!75, line width=0.6pt}, xticklabel shift=-2pt]
\addplot[vioE, line width=0.6pt] coordinates {(0,85)(1,60)(2,44)(3,24)(4,26)(5,6)};
\addplot[teaE, line width=0.6pt] coordinates {(0,77)(1,66)(2,21)(3,14)(4,26)(5,14)};
\addplot[only marks, mark=*, mark size=4.2pt, mark options={fill=vio, draw=vioE, line width=0.4pt}] coordinates {(0,85)(1,60)(2,44)(3,24)(4,26)(5,6)};
\addplot[only marks, mark=square*, mark size=4.4pt, mark options={fill=tea, draw=teaE, line width=0.4pt}] coordinates {(0,77)(1,66)(2,21)(3,14)(4,26)(5,14)};
\end{axis}
\begin{axis}[pan, noyl, at={(201pt,-798pt)}, anchor=south west, width=150pt, height=135pt,
  xmin=-0.66, xmax=5.15, ymin=0, ymax=100, ytick={0,20,40,60,80,100}, y axis line style={black!40},
  xtick style={black!75, line width=0.6pt}, xticklabel shift=-2pt,
  legend style={draw=none, fill=none, at={(0.55,0.985)}, anchor=north west, font=\fs{10}, row sep=1pt, inner sep=0pt}, legend cell align=left]
\addplot[vioE, line width=0.6pt, forget plot] coordinates {(0,75)(1,66)(2,54)(3,27)(4,9)(5,21)};
\addplot[teaE, line width=0.6pt, forget plot] coordinates {(0,62)(1,37)(2,8)(3,17)(4,10)(5,21)};
\addplot[only marks, mark=*, mark size=4.2pt, mark options={fill=vio, draw=vioE, line width=0.4pt}] coordinates {(0,75)(1,66)(2,54)(3,27)(4,9)(5,21)};
\addplot[only marks, mark=square*, mark size=4.4pt, mark options={fill=tea, draw=teaE, line width=0.4pt}] coordinates {(0,62)(1,37)(2,8)(3,17)(4,10)(5,21)};
\legend{CD71\textsuperscript{+},CD21\textsuperscript{lo}}
\end{axis}
% ============ H
\begin{axis}[pan, bars, at={(423pt,-797pt)}, anchor=south west, width=64pt, height=134pt,
  xmin=-0.65, xmax=2.55, xtick={0,1,2}, xticklabels={14,28,90}, ytick={0,20,40,60,80,100}]
\addplot[fill=hbl] coordinates {(0,83)(1,34)(2,17)};
\addplot[fill=tea] coordinates {(0,4)(1,36)(2,20)};
\addplot[fill=vio] coordinates {(0,13)(1,30)(2,63)};
\end{axis}
\begin{axis}[pan, bars, noyl, at={(495pt,-797pt)}, anchor=south west, width=61.3pt, height=134pt,
  xmin=-0.49, xmax=2.5, xtick={0,1,2}, xticklabels={14,28,90}, ytick={0,20,40,60,80,100}, reverse legend,
  legend style={draw=none, fill=none, at={(1.15,0.705)}, anchor=north west, font=\fs{9}, row sep=-2.5pt, inner sep=0pt}]
\addplot[fill=hbl] coordinates {(0,52)(1,18)(2,4)};
\addplot[fill=tea] coordinates {(0,17)(1,24)(2,9)};
\addplot[fill=vio] coordinates {(0,31)(1,58)(2,87)};
\legend{CD71\textsuperscript{+} CD21\textsuperscript{lo},CD71\textsuperscript{−} CD21\textsuperscript{lo},CD71\textsuperscript{+} CD21\textsuperscript{+}}
\end{axis}
\end{tikzpicture}
\end{document}
